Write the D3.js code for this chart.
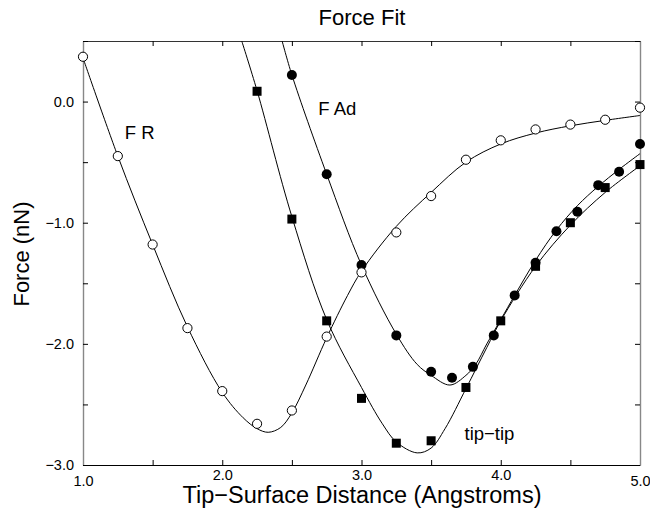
<!DOCTYPE html>
<html><head><meta charset="utf-8">
<script src="https://cdn.jsdelivr.net/npm/d3@7"></script>
<style>body{margin:0;background:#fff}</style>
</head><body>
<svg id="c" width="650" height="512"></svg>
<script>
// ---- data ----
const frPtsX = [1.0, 1.25, 1.5, 1.75, 2.0, 2.25, 2.5, 2.75, 3.0, 3.25, 3.5, 3.75, 4.0, 4.25, 4.5, 4.75, 5.0];
const frPtsY = [0.37, -0.45, -1.18, -1.87, -2.39, -2.66, -2.55, -1.94, -1.41, -1.08, -0.78, -0.48, -0.32, -0.23, -0.19, -0.15, -0.05];

const adPtsX = [2.5, 2.75, 3.0, 3.25, 3.5, 3.65, 3.8, 3.95, 4.1, 4.25, 4.4, 4.55, 4.7, 4.85, 5.0];
const adPtsY = [0.22, -0.60, -1.35, -1.93, -2.23, -2.28, -2.19, -1.93, -1.60, -1.33, -1.07, -0.91, -0.69, -0.58, -0.35];

const ttPtsX = [2.25, 2.5, 2.75, 3.0, 3.25, 3.5, 3.75, 4.0, 4.25, 4.5, 4.75, 5.0];
const ttPtsY = [0.085, -0.97, -1.81, -2.45, -2.82, -2.80, -2.36, -1.81, -1.36, -1.00, -0.71, -0.52];

// fitted curves
const frFitX = [1.0, 1.25, 1.5, 1.75, 2.0, 2.15, 2.25, 2.33, 2.42, 2.5, 2.6, 2.75, 2.9, 3.0, 3.25, 3.5, 3.75, 4.0, 4.25, 4.5, 4.75, 5.0];
const frFitY = [0.36, -0.45, -1.18, -1.86, -2.40, -2.61, -2.70, -2.73, -2.69, -2.57, -2.34, -1.95, -1.60, -1.40, -1.03, -0.75, -0.50, -0.35, -0.26, -0.20, -0.155, -0.115];

const adFitX = [2.43, 2.5, 2.75, 3.0, 3.25, 3.4, 3.5, 3.635, 3.75, 3.82, 3.9, 4.0, 4.1, 4.25, 4.4, 4.55, 4.7, 4.85, 5.0];
const adFitY = [0.50, 0.22, -0.60, -1.35, -1.92, -2.17, -2.26, -2.34, -2.26, -2.17, -2.00, -1.80, -1.60, -1.31, -1.06, -0.86, -0.70, -0.56, -0.43];

const ttFitX = [2.14, 2.25, 2.5, 2.75, 3.0, 3.15, 3.25, 3.4, 3.5, 3.6, 3.75, 3.9, 4.0, 4.25, 4.5, 4.75, 5.0];
const ttFitY = [0.50, 0.09, -0.95, -1.80, -2.36, -2.66, -2.81, -2.90, -2.86, -2.70, -2.37, -2.03, -1.81, -1.36, -1.02, -0.75, -0.53];

const xTicks = [1.0, 1.5, 2.0, 2.5, 3.0, 3.5, 4.0, 4.5, 5.0];
const yTicks = [-3.0, -2.5, -2.0, -1.5, -1.0, -0.5, 0.0, 0.5];

const titleText = "Force Fit";
const xLabel = "Tip\u2212Surface Distance (Angstroms)";
const yLabel = "Force (nN)";
const labels = [
  {text: "F R", x: 1.3, y: -0.31},
  {text: "F Ad", x: 2.69, y: -0.11},
  {text: "tip\u2212tip", x: 3.74, y: -2.79}
];

// ---- layout ----
const W = 650, H = 512;
const m = {l: 83, r: 10, t: 41, b: 47};
const svg = d3.select("#c");
const x = d3.scaleLinear().domain([1, 5]).range([m.l, W - m.r]);
const y = d3.scaleLinear().domain([-3, 0.5]).range([H - m.b, m.t]);
const font = "'Liberation Sans', Arial, Helvetica, sans-serif";
const fmt = d3.format(".1f");

svg.append("defs").append("clipPath").attr("id", "clip")
  .append("rect").attr("x", m.l).attr("y", m.t)
  .attr("width", x(5) - m.l).attr("height", y(-3) - m.t);

// axes with inward ticks
const xb = svg.append("g").attr("transform", `translate(0,${y(-3)})`)
  .call(d3.axisBottom(x).tickValues(xTicks).tickSizeInner(-5).tickSizeOuter(0).tickPadding(5)
    .tickFormat(d => Number.isInteger(d) ? fmt(d) : ""));
const xt = svg.append("g").attr("transform", `translate(0,${y(0.5)})`)
  .call(d3.axisTop(x).tickValues(xTicks).tickSizeInner(-5).tickSizeOuter(0).tickFormat(""));
const yl = svg.append("g").attr("transform", `translate(${x(1)},0)`)
  .call(d3.axisLeft(y).tickValues(yTicks).tickSizeInner(-5).tickSizeOuter(0).tickPadding(9)
    .tickFormat(d => (Number.isInteger(d) ? fmt(d) : "")));
const yr = svg.append("g").attr("transform", `translate(${x(5)},0)`)
  .call(d3.axisRight(y).tickValues(yTicks).tickSizeInner(-5).tickSizeOuter(0).tickFormat(""));

[xb, xt, yl, yr].forEach(g => {
  g.attr("font-family", font).attr("font-size", 14.5);
  g.selectAll("text").attr("fill", "#000");
  g.selectAll("line").attr("stroke", "#000");
});
// end labels of x axis sit a little lower
xb.selectAll(".tick").filter(d => d === 1 || d === 5).select("text").attr("y", 11);
xb.select(".domain").attr("stroke", "#000").attr("stroke-width", 1.2);
xt.select(".domain").attr("stroke", "#333").attr("stroke-width", 1.2);
yl.select(".domain").attr("stroke", "#888").attr("stroke-width", 1.4);
yr.select(".domain").attr("stroke", "#888").attr("stroke-width", 1.4);

// curves
const line = d3.line().x(d => x(d[0])).y(d => y(d[1])).curve(d3.curveCatmullRom.alpha(0.5));
const gC = svg.append("g").attr("clip-path", "url(#clip)");
[[frFitX, frFitY], [adFitX, adFitY], [ttFitX, ttFitY]].forEach(([xs, ys]) => {
  gC.append("path").datum(d3.zip(xs, ys)).attr("d", line)
    .attr("fill", "none").attr("stroke", "#000").attr("stroke-width", 1);
});

// markers
const gM = svg.append("g");
gM.selectAll("rect.tt").data(d3.zip(ttPtsX, ttPtsY)).join("rect")
  .attr("x", d => x(d[0]) - 4.5).attr("y", d => y(d[1]) - 4.5)
  .attr("width", 9).attr("height", 9).attr("fill", "#000");
gM.selectAll("circle.ad").data(d3.zip(adPtsX, adPtsY)).join("circle")
  .attr("cx", d => x(d[0])).attr("cy", d => y(d[1])).attr("r", 5).attr("fill", "#000");
gM.selectAll("circle.fr").data(d3.zip(frPtsX, frPtsY)).join("circle")
  .attr("cx", d => x(d[0])).attr("cy", d => y(d[1])).attr("r", 4.6)
  .attr("fill", "#fff").attr("stroke", "#000").attr("stroke-width", 1);

// annotations
svg.selectAll("text.lab").data(labels).join("text")
  .attr("x", d => x(d.x)).attr("y", d => y(d.y))
  .attr("font-family", font).attr("font-size", 18.5).text(d => d.text);

// titles
svg.append("text").attr("x", 362).attr("y", 25).attr("text-anchor", "middle")
  .attr("font-family", font).attr("font-size", 22).text(titleText);
svg.append("text").attr("x", 362).attr("y", 503).attr("text-anchor", "middle")
  .attr("font-family", font).attr("font-size", 23.5).text(xLabel);
svg.append("text").attr("transform", `translate(29,254) rotate(-90)`).attr("text-anchor", "middle")
  .attr("font-family", font).attr("font-size", 22).text(yLabel);
</script>
</body></html>
